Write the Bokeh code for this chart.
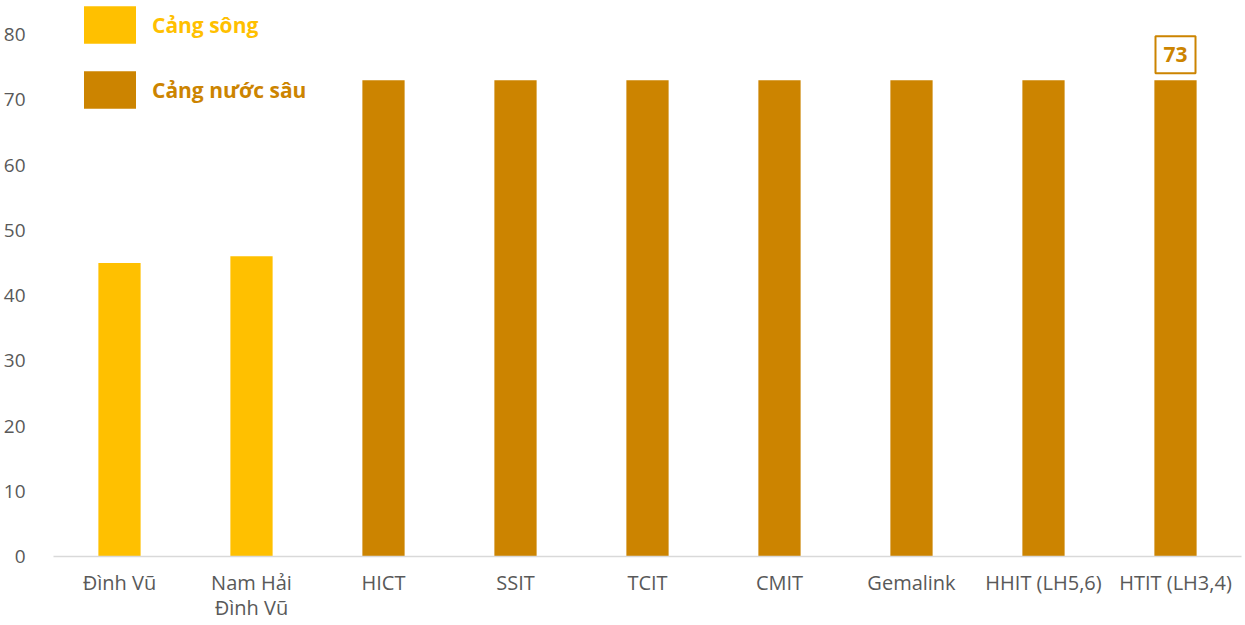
from bokeh.plotting import figure
from bokeh.models import (ColumnDataSource, FactorRange, Range1d, FixedTicker,
                          Legend, LegendItem)
from bokeh.core.properties import value
from bokeh.embed import file_html
from bokeh.resources import INLINE

categories = ["Đình Vũ", "Nam Hải\nĐình Vũ", "HICT", "SSIT", "TCIT", "CMIT",
              "Gemalink", "HHIT (LH5,6)", "HTIT (LH3,4)"]
values = [45, 46, 73, 73, 73, 73, 73, 73, 73]
groups = ["Cảng sông", "Cảng sông", "Cảng nước sâu", "Cảng nước sâu",
          "Cảng nước sâu", "Cảng nước sâu", "Cảng nước sâu", "Cảng nước sâu",
          "Cảng nước sâu"]
series_names = ["Cảng sông", "Cảng nước sâu"]
series_colors = ["#FFC000", "#CC8400"]
y_ticks = [0, 10, 20, 30, 40, 50, 60, 70, 80]

FONT = "Open Sans"

p = figure(width=1245, height=625, output_backend="svg", toolbar_location=None,
           x_range=FactorRange(factors=categories, range_padding=0),
           y_range=Range1d(0, 80 * 556 / 522),
           min_border_left=53, min_border_right=4, min_border_top=0,
           min_border_bottom=69)
p.outline_line_color = None
p.background_fill_color = "white"
p.border_fill_color = "white"
p.grid.visible = False

renderers = []
for name, color in zip(series_names, series_colors):
    idx = [i for i, g in enumerate(groups) if g == name]
    src = ColumnDataSource(dict(cat=[categories[i] for i in idx],
                                val=[values[i] for i in idx]))
    r = p.vbar(x="cat", top="val", width=0.32, source=src,
               fill_color=color, line_color=None)
    renderers.append(r)

# axes
p.yaxis.ticker = FixedTicker(ticks=y_ticks)
p.yaxis.axis_line_color = None
p.yaxis.major_tick_line_color = None
p.yaxis.minor_tick_line_color = None
p.yaxis.major_label_text_font = FONT
p.yaxis.major_label_text_font_size = "19px"
p.yaxis.major_label_text_color = "#595959"
p.yaxis.major_label_standoff = 22

p.xaxis.axis_line_color = "#D9D9D9"
p.xaxis.axis_line_width = 1.5
p.xaxis.major_tick_line_color = None
p.xaxis.minor_tick_line_color = None
p.xaxis.major_label_text_font = FONT
p.xaxis.major_label_text_font_size = "20px"
p.xaxis.major_label_text_color = "#595959"
p.xaxis.major_label_text_line_height = 0.95
p.xaxis.major_label_standoff = 6

# legends (one per series so that each label gets its own colour)
legend_pos = [(24, 508), (24, 443)]
for name, color, r, pos in zip(series_names, series_colors, renderers, legend_pos):
    lg = Legend(items=[LegendItem(label=name, renderers=[r])], location=pos,
                glyph_width=65, glyph_height=47, padding=0, margin=0,
                border_line_color=None, background_fill_alpha=0,
                label_text_color=color, label_text_font=FONT,
                label_text_font_style="bold", label_text_font_size="21px",
                label_standoff=10)
    p.add_layout(lg, "center")

# value label on last bar
lab_src = ColumnDataSource(dict(cat=[categories[-1]], val=[values[-1]],
                                txt=[str(values[-1])]))
p.text(x="cat", y="val", text="txt", source=lab_src,
       text_align="center", text_baseline="bottom", y_offset=-7,
       text_font=value(FONT), text_font_style="bold", text_font_size="21px",
       text_color=series_colors[1], border_line_color=series_colors[1],
       border_line_width=2, background_fill_color="white", padding=(8, 11))

open("out.html", "w").write(file_html(p, INLINE))
